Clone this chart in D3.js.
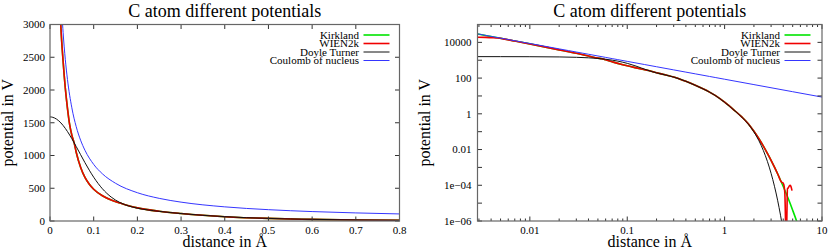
<!DOCTYPE html>
<html>
<head>
<meta charset="utf-8">
<script src="https://cdn.jsdelivr.net/npm/d3@7"></script>
<style>
body { margin: 0; background: #fff; }
text { font-family: "Liberation Serif", "Times New Roman", serif; fill: #000; }
</style>
</head>
<body>
<svg id="chart" width="830" height="249"></svg>
<script>
// distance in Angstrom, potential in V
const rKirkland = [0.0029, 0.0035, 0.004, 0.0047, 0.0055, 0.007, 0.01, 0.015, 0.02, 0.025, 0.03, 0.035, 0.04, 0.045, 0.05, 0.055, 0.06, 0.07, 0.08, 0.09, 0.1, 0.12, 0.14, 0.16, 0.18, 0.2, 0.25, 0.3, 0.35, 0.4, 0.5, 0.6, 0.7, 0.8, 1.0, 1.25, 1.5, 1.75, 2.0, 2.25, 2.5, 2.75, 3.0, 3.25, 3.5, 3.75, 4.0, 4.5, 5.0, 5.5, 6.0];
const vKirkland = [29400, 24300, 21200, 17980, 15300, 11900, 8200, 5260, 3800, 2950, 2440, 2030, 1720, 1470, 1310, 1200, 1050, 820, 665, 560, 485, 385, 320, 275, 232, 200, 148, 114, 87, 66, 39.5, 25.1, 16.4, 10.7, 4.45, 1.62, 0.67, 0.28, 0.105, 0.04, 0.0155, 0.0061, 0.0025, 0.00104, 0.00044, 0.00019, 0.000085, 0.000018, 0.000004, 0.00000095, 0.00000022];

const rWien = [0.0029, 0.0035, 0.004, 0.0047, 0.0055, 0.007, 0.01, 0.015, 0.02, 0.025, 0.03, 0.035, 0.04, 0.045, 0.05, 0.055, 0.06, 0.07, 0.08, 0.09, 0.1, 0.12, 0.14, 0.16, 0.18, 0.2, 0.25, 0.3, 0.35, 0.4, 0.5, 0.6, 0.7, 0.8, 1.0, 1.25, 1.5, 1.75, 2.0, 2.25, 2.5, 2.75, 3.0, 3.25, 3.5, 3.65, 3.75, 3.85, 3.95, 4.05, 4.15, 4.22, 4.28, 4.35, 4.42, 4.5, 4.6, 4.72, 4.82, 4.92];
const vWien = [19500, 19000, 18300, 17400, 15200, 11800, 8150, 5250, 3800, 2950, 2440, 2030, 1720, 1470, 1310, 1200, 1050, 820, 665, 560, 485, 385, 320, 275, 232, 200, 148, 114, 87, 66, 39.5, 25.1, 16.4, 10.7, 4.45, 1.62, 0.67, 0.28, 0.105, 0.04, 0.0155, 0.0061, 0.0025, 0.00104, 0.00044, 0.00026, 0.00018, 0.000148, 0.00014, 0.00011, 0.00004, 0.000001, 0.00000001, 0.000001, 0.000065, 0.00007, 0.00009, 0.0001, 0.00008, 0.00005];

const rDoyle = [0, 0.0029, 0.005, 0.01, 0.02, 0.03, 0.04, 0.05, 0.06, 0.07, 0.08, 0.09, 0.1, 0.12, 0.14, 0.16, 0.18, 0.2, 0.25, 0.3, 0.35, 0.4, 0.5, 0.6, 0.7, 0.8, 1.0, 1.25, 1.5, 1.75, 2.0, 2.25, 2.5, 2.75, 3.0, 3.25, 3.5, 3.75, 4.0];
const vDoyle = [1589, 1588, 1585.5, 1574, 1529.5, 1458.6, 1365.6, 1256.4, 1136.8, 1013.3, 891.2, 775.1, 668.6, 491.8, 365.6, 282.4, 229.8, 196.3, 147.3, 113.7, 86.8, 66.1, 39.5, 25.1, 16.4, 10.7, 4.42, 1.594, 0.654, 0.2654, 0.0971, 0.03124, 0.0088, 0.00217, 0.000467, 0.0000882, 0.00001455, 0.0000021, 0.000000266];

const rCoulomb = [0.0029, 0.004, 0.006, 0.01, 0.015, 0.02, 0.025, 0.03, 0.035, 0.04, 0.05, 0.06, 0.07, 0.08, 0.1, 0.12, 0.15, 0.2, 0.25, 0.3, 0.4, 0.5, 0.6, 0.7, 0.8, 1, 2, 5, 10];
const vCoulomb = [29793, 21600, 14400, 8640, 5760, 4320, 3456, 2880, 2469, 2160, 1728, 1440, 1234, 1080, 864, 720, 576, 432, 345.6, 288, 216, 172.8, 144, 123.4, 108, 86.4, 43.2, 17.28, 8.64];

const seriesNames = ['Kirkland', 'WIEN2k', 'Doyle Turner', 'Coulomb of nucleus'];

const linXTicks = [0, 0.1, 0.2, 0.3, 0.4, 0.5, 0.6, 0.7, 0.8];
const linYTicks = [0, 500, 1000, 1500, 2000, 2500, 3000];
const logXTicks = [0.01, 0.1, 1, 10];
const logXLabels = ['0.01', '0.1', '1', '10'];
const logYTicks = [1e-6, 1e-4, 0.01, 1, 100, 10000];
const logYLabels = ['1e\u221206', '1e\u221204', '0.01', '1', '100', '10000'];

const title = 'C atom different potentials';
const xTitle = 'distance in \u00c5';
const yTitle = 'potential in V';

const svg = d3.select('#chart');

const series = [
	{ name: seriesNames[0], r: rKirkland, v: vKirkland, color: '#00e400', w: 1.6 },
	{ name: seriesNames[1], r: rWien, v: vWien, color: '#f00000', w: 1.6 },
	{ name: seriesNames[2], r: rDoyle, v: vDoyle, color: '#111', w: 1 },
	{ name: seriesNames[3], r: rCoulomb, v: vCoulomb, color: '#3535ff', w: 1 }
];

function drawPanel(p) {
	const g = svg.append('g');
	const x = p.x, y = p.y;
	const [x0, x1] = x.range();
	const [y1, y0] = y.range();

	g.append('clipPath').attr('id', p.id)
		.append('rect')
		.attr('x', x0).attr('y', y0)
		.attr('width', x1 - x0).attr('height', y1 - y0);

	// curves
	const line = d3.line()
		.x(d => x(d[0]))
		.y(d => y(d[1]))
		.curve(d3.curveMonotoneX);

	const plot = g.append('g').attr('clip-path', `url(#${p.id})`);
	series.forEach(s => {
		let pts = s.r.map((r, i) => [r, s.v[i]]);
		pts = pts.filter(p.keep);
		plot.append('path')
			.attr('d', line(pts))
			.attr('fill', 'none')
			.attr('stroke', s.color)
			.attr('stroke-width', s.w)
			.attr('stroke-linejoin', 'round');
	});

	// ticks, inward, mirrored
	const tk = g.append('g').attr('stroke', '#333').attr('stroke-width', 1);
	p.xMinor.forEach(t => {
		tk.append('line').attr('x1', x(t)).attr('x2', x(t)).attr('y1', y1).attr('y2', y1 - 2.5);
		tk.append('line').attr('x1', x(t)).attr('x2', x(t)).attr('y1', y0).attr('y2', y0 + 2.5);
	});
	p.xTicks.forEach(t => {
		tk.append('line').attr('x1', x(t)).attr('x2', x(t)).attr('y1', y1).attr('y2', y1 - 4.5);
		tk.append('line').attr('x1', x(t)).attr('x2', x(t)).attr('y1', y0).attr('y2', y0 + 4.5);
	});
	p.yAllTicks.forEach(t => {
		tk.append('line').attr('y1', y(t)).attr('y2', y(t)).attr('x1', x0).attr('x2', x0 + 4.5);
		tk.append('line').attr('y1', y(t)).attr('y2', y(t)).attr('x1', x1).attr('x2', x1 - 4.5);
	});

	// border
	g.append('rect')
		.attr('x', x0).attr('y', y0)
		.attr('width', x1 - x0).attr('height', y1 - y0)
		.attr('fill', 'none')
		.attr('stroke', '#666')
		.attr('stroke-width', 1.2);

	// tick labels
	g.selectAll('.xl').data(p.xTicks).enter().append('text')
		.attr('x', d => x(d)).attr('y', 234)
		.attr('text-anchor', 'middle')
		.attr('font-size', 11)
		.text((d, i) => p.xLabels[i]);
	g.selectAll('.yl').data(p.yTicks).enter().append('text')
		.attr('x', x0 - p.yLabelGap).attr('y', d => y(d))
		.attr('dy', '0.35em')
		.attr('text-anchor', 'end')
		.attr('font-size', 11)
		.text((d, i) => p.yLabels[i]);

	// titles
	const cx = (x0 + x1) / 2, cy = (y0 + y1) / 2;
	g.append('text').attr('x', cx).attr('y', 16.5)
		.attr('text-anchor', 'middle').attr('font-size', 18).text(title);
	g.append('text').attr('x', cx).attr('y', 247)
		.attr('text-anchor', 'middle').attr('font-size', 16).text(xTitle);
	g.append('text')
		.attr('transform', `translate(${p.yTitleX},${cy}) rotate(-90)`)
		.attr('text-anchor', 'middle').attr('font-size', 16).text(yTitle);

	// legend
	const ly = [35, 43.5, 52, 60.5];
	series.forEach((s, i) => {
		g.append('text')
			.attr('x', p.legendX).attr('y', ly[i] + 3.6)
			.attr('text-anchor', 'end').attr('font-size', 11)
			.text(s.name);
		g.append('line')
			.attr('x1', p.legendX + 4.5).attr('x2', p.legendX + 30.5)
			.attr('y1', ly[i]).attr('y2', ly[i])
			.attr('stroke', s.color).attr('stroke-width', s.w);
	});
}

// left panel: linear axes
const xLin = d3.scaleLinear().domain([0, 0.8]).range([50, 399.5]);
const yLin = d3.scaleLinear().domain([0, 3000]).range([221, 24.5]);
drawPanel({
	id: 'clipL', x: xLin, y: yLin,
	keep: d => d[0] <= 1.0,
	xTicks: linXTicks, xLabels: linXTicks.map(String), xMinor: [],
	yTicks: linYTicks, yLabels: linYTicks.map(String), yAllTicks: linYTicks,
	yLabelGap: 5, yTitleX: 13, legendX: 359
});

// right panel: log-log axes
const xLog = d3.scaleLog().domain([0.0029, 10]).range([477.5, 822]);
const yLog = d3.scaleLog().domain([1e-6, 1e5]).range([221, 24.5]);
const logXMinor = [];
[0.001, 0.01, 0.1, 1].forEach(dec => {
	for (let m = 2; m <= 9; m++) {
		const t = m * dec;
		if (t >= 0.0029 && t <= 10) logXMinor.push(t);
	}
});
const logYAll = d3.range(-6, 6).map(e => Math.pow(10, e));
drawPanel({
	id: 'clipR', x: xLog, y: yLog,
	keep: d => d[0] > 0 && d[1] > 0,
	xTicks: logXTicks, xLabels: logXLabels, xMinor: logXMinor,
	yTicks: logYTicks, yLabels: logYLabels, yAllTicks: logYAll,
	yLabelGap: 6, yTitleX: 430, legendX: 780
});
</script>
</body>
</html>
